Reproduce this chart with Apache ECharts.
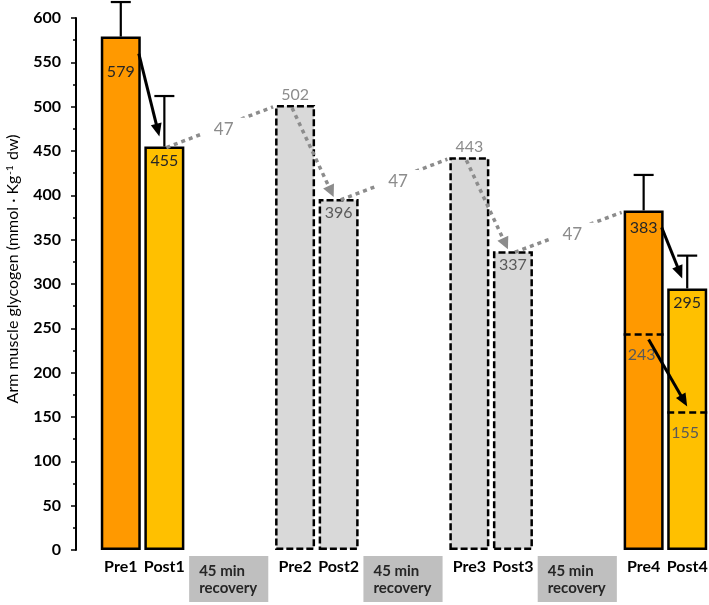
<!DOCTYPE html>
<html>
<head>
<meta charset="utf-8">
<script src="https://cdn.jsdelivr.net/npm/echarts@6/dist/echarts.min.js"></script>
<style>
  html, body { margin: 0; padding: 0; background: #fff; }
  #chart { width: 709px; height: 605px; }
</style>
</head>
<body>
<div id="chart"></div>
<script>
// empty names are the recovery gaps between bouts
const categories = ["Pre1", "Post1", "", "", "Pre2", "Post2", "", "", "Pre3", "Post3", "", "", "Pre4", "Post4"];
const glycogen = [579, 455, null, null, 502, 396, null, null, 443, 337, null, null, 383, 295];
const errorTop = [618, 512, null, null, null, null, null, null, null, null, null, null, 423, 332];
const estimated = ["Pre2", "Post2", "Pre3", "Post3"];
const recoveryGain = [47, 47, 47];
const recoveryText = "45 min\nrecovery";
const splitNames = ["Pre4", "Post4"];
const splitValues = [243, 155];
const yMin = 0, yMax = 600, yStep = 50;

const BAR_W = 40;
const FONT = 'Lato, "Open Sans", sans-serif';
const idx = (n) => categories.indexOf(n);
const val = (n) => glycogen[idx(n)];

// black arrows Pre -> Post for measured bouts, grey dotted for estimated ones
const dropLinks = [["Pre1", "Post1"], ["Pre4", "Post4"]].map(([a, b]) => [idx(a), val(a), idx(b), val(b)]);
const estDropLinks = [["Pre2", "Post2"], ["Pre3", "Post3"]].map(([a, b]) => [idx(a), val(a), idx(b), val(b)]);
const recLinks = [["Post1", "Pre2"], ["Post2", "Pre3"], ["Post3", "Pre4"]]
  .map(([a, b], i) => [idx(a), val(a), idx(b), val(b), recoveryGain[i]]);
const splitArrow = [[idx(splitNames[0]), splitValues[0], idx(splitNames[1]), splitValues[1]]];
const splitData = splitNames.map((n, i) => [idx(n), splitValues[i]]);
const errData = glycogen.map((v, i) => errorTop[i] == null ? null : [i, v, errorTop[i]]).filter(Boolean);
const gapData = [[2, 3], [6, 7], [10, 11]];

function arrowEls(p0, p1, color, width, dash, headLen, headW) {
  const dx = p1[0] - p0[0], dy = p1[1] - p0[1];
  const len = Math.hypot(dx, dy);
  const ux = dx / len, uy = dy / len;
  const bx = p1[0] - ux * headLen, by = p1[1] - uy * headLen;
  const nx = -uy * headW / 2, ny = ux * headW / 2;
  return [
    { type: 'line', shape: { x1: p0[0], y1: p0[1], x2: bx + ux * 2, y2: by + uy * 2 },
      style: { stroke: color, lineWidth: width, lineDash: dash || null } },
    { type: 'polygon', shape: { points: [p1, [bx + nx, by + ny], [bx - nx, by - ny]] },
      style: { fill: color } }
  ];
}

function coords(api) {
  return [api.coord([api.value(0), api.value(1)]), api.coord([api.value(2), api.value(3)])];
}

const GREY = '#8c8c8c';
const h = BAR_W / 2;

function barStyle(i) {
  const name = categories[i];
  if (estimated.includes(name)) {
    return { color: '#d9d9d9', borderColor: '#000', borderWidth: 2.5, borderType: [7, 3] };
  }
  return { color: name.startsWith('Pre') ? '#ff9900' : '#ffc000', borderColor: '#000', borderWidth: 2.5 };
}

function barLabel(i) {
  const name = categories[i];
  const base = { show: true, fontFamily: FONT, fontSize: 16 };
  if (name === 'Pre2' || name === 'Pre3') return { ...base, position: 'top', distance: 2, color: GREY };
  if (estimated.includes(name)) return { ...base, position: 'insideTop', distance: 6, color: '#595959' };
  const dist = name === 'Pre1' ? 27 : name === 'Pre4' ? 9 : 6;
  return { ...base, position: 'insideTop', distance: dist, color: '#262626' };
}

const chart = echarts.init(document.getElementById('chart'));
chart.setOption({
  animation: false,
  grid: { left: 99, right: 0, top: 18, bottom: 55, outerBoundsMode: 'none' },
  xAxis: {
    type: 'category',
    data: categories,
    axisLine: { show: false },
    axisTick: { show: false },
    axisLabel: { margin: 9, color: '#000', fontFamily: FONT, fontSize: 16, fontWeight: 'bold', interval: 0 }
  },
  yAxis: {
    type: 'value',
    min: yMin, max: yMax, interval: yStep,
    offset: 23,
    splitLine: { show: false },
    axisLine: { show: true, lineStyle: { color: '#000', width: 2 } },
    axisTick: { show: true, length: 5, lineStyle: { color: '#000', width: 1.5 } },
    minorTick: { show: true, splitNumber: 2, length: 3, lineStyle: { color: '#000', width: 1.5 } },
    axisLabel: { margin: 15, color: '#000', fontFamily: FONT, fontSize: 16, fontWeight: 'bold' },
    name: 'Arm muscle glycogen (mmol · Kg{sup|-1} dw)',
    nameLocation: 'middle',
    nameGap: 55,
    nameTextStyle: {
      color: '#000', fontFamily: FONT, fontSize: 16,
      padding: [0, 0, 0, 30],
      rich: { sup: { fontSize: 10, fontFamily: FONT, color: '#000', verticalAlign: 'top', padding: [0, 1, 6, 1] } }
    }
  },
  series: [
    {
      type: 'custom', name: 'err', z: 1,
      data: errData,
      renderItem: (params, api) => {
        const top = api.coord([api.value(0), api.value(1)]);
        const cap = api.coord([api.value(0), api.value(2)]);
        return { type: 'group', children: [
          { type: 'line', shape: { x1: top[0], y1: top[1], x2: cap[0], y2: cap[1] }, style: { stroke: '#000', lineWidth: 2.2 } },
          { type: 'line', shape: { x1: cap[0] - 10, y1: cap[1], x2: cap[0] + 10, y2: cap[1] }, style: { stroke: '#000', lineWidth: 2.2 } }
        ] };
      }
    },
    {
      type: 'bar', name: 'glycogen', z: 2,
      barWidth: BAR_W,
      data: glycogen.map((v, i) => v == null ? null : { value: v, itemStyle: barStyle(i), label: barLabel(i) })
    },
    {
      type: 'custom', name: 'split', z: 3,
      data: splitData,
      renderItem: (params, api) => {
        const p = api.coord([api.value(0), api.value(1)]);
        return { type: 'group', children: [
          { type: 'line', shape: { x1: p[0] - h, y1: p[1], x2: p[0] + h, y2: p[1] },
            style: { stroke: '#000', lineWidth: 2.5, lineDash: [7, 4] } },
          { type: 'text', x: p[0] - 2, y: p[1] + 20,
            style: { text: String(api.value(1)), fill: '#595959', font: '16px ' + FONT, align: 'center', verticalAlign: 'middle' } }
        ] };
      }
    },
    {
      type: 'custom', name: 'recovery', z: 4,
      data: recLinks,
      renderItem: (params, api) => {
        const [a, b] = coords(api);
        const p0 = [a[0] + 2, a[1] + 1], p1 = [b[0] - h - 2, b[1] + 2];
        return { type: 'group', children: [
          { type: 'line', shape: { x1: p0[0], y1: p0[1], x2: p1[0], y2: p1[1] },
            style: { stroke: GREY, lineWidth: 3.5, lineDash: [4, 4] } },
          { type: 'text', x: (p0[0] + p1[0]) / 2 + 4, y: (p0[1] + p1[1]) / 2 + 2,
            style: { text: String(api.value(4)), fill: GREY, font: '17px ' + FONT, align: 'center', verticalAlign: 'middle',
              backgroundColor: '#fff', padding: [3, 12] } }
        ] };
      }
    },
    {
      type: 'custom', name: 'estDrop', z: 4,
      data: estDropLinks,
      renderItem: (params, api) => {
        const [a, b] = coords(api);
        return { type: 'group', children: arrowEls([a[0] - 3, a[1] + 3], [b[0] - 5, b[1] - 2], GREY, 3.5, [4, 4], 12, 12) };
      }
    },
    {
      type: 'custom', name: 'drop', z: 5,
      data: dropLinks,
      renderItem: (params, api) => {
        const [a, b] = coords(api);
        return { type: 'group', children: arrowEls([a[0] + h - 2, a[1] + 17], [b[0] - 5, b[1] - 10], '#000', 3, null, 13, 11) };
      }
    },
    {
      type: 'custom', name: 'splitDrop', z: 5,
      data: splitArrow,
      renderItem: (params, api) => {
        const [a, b] = coords(api);
        return { type: 'group', children: arrowEls([a[0] + 5, a[1] + 5], [b[0], b[1] - 6], '#000', 3, null, 13, 11) };
      }
    },
    {
      type: 'custom', name: 'gap', z: 1,
      data: gapData,
      renderItem: (params, api) => {
        const c0 = api.coord([api.value(0), 0]);
        const c1 = api.coord([api.value(1), 0]);
        const slot = c1[0] - c0[0];
        const x = c0[0] - slot / 2 + 3;
        const w = 2 * slot - 8;
        return { type: 'group', children: [
          { type: 'rect', shape: { x: x, y: c0[1] + 6, width: w, height: 46 }, style: { fill: '#bfbfbf' } },
          { type: 'text', x: x + 10, y: c0[1] + 30,
            style: { text: recoveryText, fill: '#262626', font: 'bold 15px ' + FONT, align: 'left', verticalAlign: 'middle', lineHeight: 17 } }
        ] };
      }
    }
  ]
});
</script>
</body>
</html>
